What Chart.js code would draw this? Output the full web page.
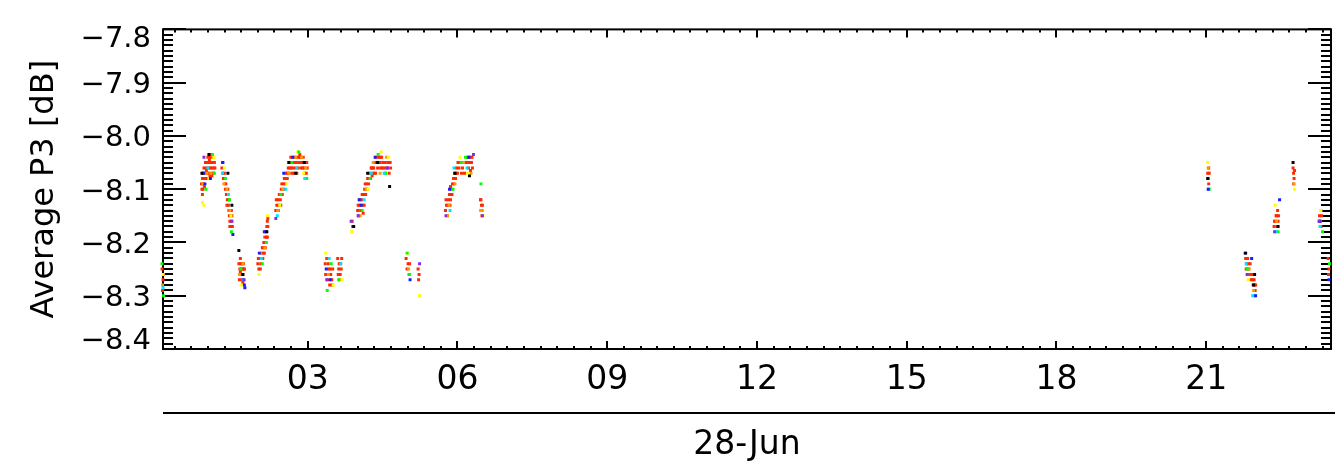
<!DOCTYPE html>
<html><head><meta charset="utf-8">
<script src="https://cdn.jsdelivr.net/npm/chart.js@4.4.1/dist/chart.umd.min.js"></script>
<style>html,body{margin:0;padding:0;background:#fff;overflow:hidden}canvas{display:block}</style>
</head><body>
<canvas id="c" width="1335" height="462"></canvas>
<script>
// ---- axis ticks / ranges ----
const xTicks = [3, 6, 9, 12, 15, 18, 21];
const yTicks = [-8.4, -8.3, -8.2, -8.1, -8.0, -7.9, -7.8];
const xRange = [0.1, 23.5];
const yRange = [-8.4, -7.8];
const dateLabel = '28-Jun';
const yTitle = 'Average P3 [dB]';

// ---- series: [hour of 28-Jun, Average P3 dB] ----
const red = [
 [0.08,-8.25],[0.10,-8.27],[0.09,-8.29],[0.11,-8.26],
 [0.88,-8.10],[0.89,-8.08],[0.90,-8.07],[0.91,-8.09],[0.92,-8.06],[0.93,-8.08],[0.94,-8.07],[0.95,-8.05],[0.96,-8.06],[0.97,-8.08],[0.98,-8.05],[0.99,-8.07],[1.00,-8.04],[1.01,-8.06],[1.02,-8.05],[1.03,-8.07],[1.04,-8.04],[1.05,-8.06],[1.06,-8.05],[1.07,-8.04],[1.08,-8.06],[1.09,-8.05],[1.10,-8.07],[1.11,-8.05],[1.12,-8.06],[1.13,-8.05],[0.89,-8.11],[0.93,-8.095],[0.97,-8.065],[1.04,-8.075],
 [0.87,-8.09],[0.90,-8.10],[0.92,-8.08],[0.95,-8.08],[0.99,-8.05],[1.01,-8.08],[1.03,-8.045],[1.06,-8.035],[1.08,-8.075],[1.11,-8.07],[1.14,-8.06],
 [1.28,-8.06],[1.30,-8.07],[1.31,-8.08],[1.33,-8.07],[1.34,-8.09],[1.35,-8.10],[1.37,-8.11],[1.39,-8.12],[1.40,-8.10],[1.41,-8.13],[1.42,-8.14],[1.43,-8.15],[1.44,-8.16],[1.45,-8.14],[1.46,-8.17],[1.47,-8.16],[1.48,-8.15],[1.49,-8.17],
 [1.29,-8.05],[1.32,-8.08],[1.36,-8.09],[1.38,-8.13],[1.42,-8.12],[1.44,-8.17],[1.47,-8.14],
 [1.62,-8.24],[1.64,-8.25],[1.65,-8.23],[1.66,-8.26],[1.67,-8.24],[1.68,-8.27],[1.69,-8.25],[1.70,-8.26],[1.71,-8.24],[1.72,-8.27],[1.73,-8.25],[1.68,-8.25],
 [1.63,-8.27],[1.66,-8.24],[1.70,-8.275],[1.72,-8.25],[1.65,-8.255],
 [2.00,-8.24],[2.02,-8.25],[2.04,-8.23],[2.06,-8.24],[2.08,-8.22],[2.10,-8.23],[2.11,-8.21],[2.12,-8.20],[2.13,-8.22],[2.14,-8.19],[2.15,-8.20],[2.16,-8.18],[2.17,-8.19],[2.18,-8.17],[2.19,-8.16],[2.20,-8.17],[2.15,-8.21],[2.19,-8.19],
 [2.01,-8.23],[2.05,-8.25],[2.09,-8.21],[2.12,-8.22],[2.16,-8.20],[2.18,-8.19],[2.20,-8.155],
 [2.36,-8.14],[2.38,-8.13],[2.40,-8.12],[2.41,-8.14],[2.43,-8.11],[2.45,-8.12],[2.47,-8.10],[2.49,-8.11],[2.51,-8.09],[2.53,-8.08],[2.55,-8.09],[2.57,-8.07],[2.59,-8.08],[2.61,-8.06],[2.63,-8.07],[2.65,-8.05],[2.67,-8.06],[2.69,-8.07],[2.71,-8.05],[2.73,-8.04],[2.75,-8.06],[2.77,-8.05],[2.79,-8.04],[2.81,-8.06],[2.83,-8.04],[2.85,-8.05],[2.87,-8.06],[2.89,-8.05],[2.91,-8.04],[2.93,-8.06],[2.95,-8.05],[2.97,-8.07],[2.99,-8.06],[2.72,-8.07],[2.84,-8.035],
 [2.37,-8.12],[2.42,-8.13],[2.46,-8.13],[2.48,-8.09],[2.52,-8.10],[2.56,-8.08],[2.60,-8.07],[2.64,-8.06],[2.66,-8.04],[2.70,-8.06],[2.74,-8.05],[2.78,-8.07],[2.82,-8.05],[2.86,-8.04],[2.90,-8.06],[2.94,-8.07],[2.98,-8.05],
 [3.35,-8.24],[3.37,-8.26],[3.38,-8.23],[3.40,-8.27],[3.42,-8.25],[3.44,-8.28],[3.46,-8.26],[3.48,-8.27],[3.50,-8.25],
 [3.36,-8.26],[3.41,-8.24],[3.45,-8.25],[3.49,-8.28],
 [3.60,-8.23],[3.62,-8.25],[3.63,-8.24],[3.65,-8.26],[3.67,-8.25],[3.68,-8.23],[3.61,-8.26],[3.66,-8.24],
 [3.89,-8.16],[3.90,-8.17],
 [4.00,-8.14],[4.02,-8.15],[4.04,-8.13],[4.06,-8.14],[4.08,-8.12],[4.10,-8.13],[4.12,-8.11],[4.14,-8.10],[4.16,-8.11],[4.18,-8.09],[4.20,-8.08],[4.22,-8.09],[4.24,-8.07],[4.26,-8.08],[4.28,-8.06],[4.30,-8.07],[4.32,-8.06],[4.34,-8.05],[4.36,-8.07],[4.38,-8.05],[4.40,-8.06],[4.42,-8.04],[4.44,-8.05],[4.46,-8.06],[4.48,-8.04],[4.50,-8.05],[4.52,-8.06],[4.54,-8.05],[4.57,-8.06],[4.60,-8.05],[4.63,-8.07],[4.66,-8.06],[4.11,-8.145],[4.29,-8.075],
 [4.01,-8.13],[4.05,-8.12],[4.09,-8.11],[4.13,-8.13],[4.15,-8.09],[4.19,-8.10],[4.23,-8.08],[4.27,-8.06],[4.31,-8.06],[4.33,-8.07],[4.37,-8.04],[4.41,-8.05],[4.45,-8.04],[4.49,-8.06],[4.55,-8.07],[4.59,-8.06],[4.65,-8.05],
 [4.97,-8.23],[4.99,-8.25],[5.01,-8.24],[5.03,-8.26],[5.04,-8.24],
 [5.21,-8.25],[5.22,-8.27],[5.23,-8.26],
 [5.76,-8.14],[5.78,-8.13],[5.80,-8.15],[5.82,-8.12],[5.84,-8.11],[5.86,-8.12],[5.88,-8.10],[5.90,-8.09],[5.92,-8.08],[5.94,-8.07],[5.96,-8.08],[5.98,-8.06],[6.00,-8.07],[6.03,-8.06],[6.06,-8.05],[6.10,-8.06],[6.14,-8.07],[6.18,-8.05],[6.22,-8.06],[6.25,-8.04],[6.28,-8.05],[6.30,-8.06],[5.86,-8.095],[6.26,-8.065],
 [5.77,-8.12],[5.81,-8.13],[5.85,-8.13],[5.89,-8.11],[5.93,-8.09],[5.97,-8.07],[6.01,-8.05],[6.08,-8.07],[6.16,-8.05],[6.20,-8.04],[6.24,-8.05],[6.29,-8.04],
 [6.46,-8.12],[6.47,-8.14],[6.48,-8.13],[6.49,-8.15],[6.50,-8.13],[6.47,-8.12],[6.49,-8.14],
 [21.03,-8.07],[21.04,-8.08],[21.05,-8.09],[21.06,-8.07],[21.05,-8.06],
 [21.79,-8.23],[21.81,-8.24],[21.83,-8.23],[21.85,-8.25],[21.87,-8.26],[21.88,-8.24],[21.90,-8.27],[21.92,-8.26],[21.94,-8.28],[21.96,-8.27],[21.98,-8.29],[21.99,-8.28],
 [21.80,-8.25],[21.84,-8.24],[21.89,-8.26],[21.93,-8.27],[21.97,-8.28],
 [22.36,-8.17],[22.38,-8.16],[22.40,-8.15],[22.42,-8.17],[22.43,-8.14],[22.45,-8.15],[22.37,-8.16],[22.41,-8.15],[22.44,-8.16],
 [22.74,-8.06],[22.75,-8.07],[22.76,-8.08],[22.77,-8.065],[22.75,-8.09],
 [23.27,-8.15],[23.29,-8.16],[23.31,-8.15],[23.28,-8.16],[23.30,-8.17],
 [23.44,-8.23],[23.46,-8.25],[23.45,-8.26]
];
const orange = [
 [0.09,-8.28],[0.90,-8.09],[0.98,-8.07],[1.06,-8.07],[1.10,-8.04],[1.32,-8.09],[1.38,-8.10],[1.44,-8.14],[1.63,-8.26],[1.70,-8.24],[2.05,-8.22],[2.14,-8.21],[2.40,-8.14],[2.50,-8.10],[2.62,-8.07],[2.76,-8.04],[2.88,-8.04],[2.96,-8.06],[3.41,-8.26],[3.64,-8.27],[4.05,-8.15],[4.17,-8.10],[4.31,-8.05],[4.45,-8.07],[4.58,-8.04],[5.02,-8.25],[5.83,-8.13],[5.95,-8.09],[6.12,-8.05],[6.27,-8.07],[6.48,-8.14],[21.04,-8.06],[21.86,-8.25],[21.95,-8.29],[22.41,-8.16],[22.76,-8.09],[23.30,-8.14]
];
const yellow = [
 [0.10,-8.26],[0.89,-8.125],[0.92,-8.13],[1.02,-8.08],[1.12,-8.04],[1.33,-8.06],[1.46,-8.15],[1.67,-8.28],[2.02,-8.26],[2.19,-8.15],[2.44,-8.13],[2.58,-8.09],[2.80,-8.03],[2.92,-8.07],[3.36,-8.22],[3.51,-8.28],[3.69,-8.27],[3.88,-8.18],[4.21,-8.10],[4.47,-8.03],[4.62,-8.04],[5.00,-8.22],[5.24,-8.30],[5.79,-8.15],[6.05,-8.04],[6.20,-8.07],[6.51,-8.15],[21.03,-8.05],[21.84,-8.27],[22.38,-8.13],[22.77,-8.10],[23.29,-8.14]
];
const green = [
 [0.08,-8.24],[0.11,-8.30],[0.96,-8.10],[1.09,-8.035],[1.13,-8.07],[1.35,-8.08],[1.43,-8.12],[1.47,-8.18],[1.66,-8.25],[2.09,-8.24],[2.17,-8.20],[2.46,-8.11],[2.68,-8.05],[2.82,-8.03],[2.98,-8.08],[3.39,-8.29],[3.47,-8.24],[3.62,-8.27],[4.09,-8.14],[4.25,-8.08],[4.41,-8.035],[4.56,-8.07],[4.99,-8.22],[5.04,-8.26],[5.91,-8.10],[6.07,-8.05],[6.16,-8.04],[6.47,-8.09],[21.06,-8.10],[21.82,-8.25],[21.97,-8.30],[22.44,-8.18],[23.33,-8.18],[23.47,-8.24]
];
const cyan = [
 [0.10,-8.285],[1.00,-8.06],[1.29,-8.07],[1.41,-8.11],[1.71,-8.27],[2.07,-8.23],[2.39,-8.15],[2.56,-8.10],[2.78,-8.06],[2.94,-8.08],[3.43,-8.23],[3.66,-8.24],[4.13,-8.12],[4.27,-8.07],[4.53,-8.07],[5.85,-8.14],[5.93,-8.06],[6.19,-8.06],[21.05,-8.10],[21.80,-8.24],[21.93,-8.30],[22.39,-8.18],[23.28,-8.17]
];
const blue = [
 [0.91,-8.07],[0.94,-8.09],[1.05,-8.08],[1.30,-8.05],[1.50,-8.185],[1.73,-8.28],[1.74,-8.285],[2.03,-8.22],[2.13,-8.18],[2.52,-8.07],[2.70,-8.04],[3.37,-8.25],[3.45,-8.27],[4.03,-8.12],[4.07,-8.13],[4.35,-8.04],[5.05,-8.27],[5.84,-8.10],[6.23,-8.04],[21.04,-8.10],[21.78,-8.22],[21.91,-8.23],[21.99,-8.30],[22.47,-8.12],[23.27,-8.16],[23.46,-8.27]
];
const purple = [
 [0.92,-8.04],[1.48,-8.16],[1.72,-8.27],[2.36,-8.155],[3.38,-8.27],[3.87,-8.16],[4.01,-8.15],[4.60,-8.06],[5.24,-8.24],[5.77,-8.15],[6.32,-8.035],[6.50,-8.15],[21.82,-8.26],[22.37,-8.18],[23.26,-8.16]
];
const black = [
 [0.88,-8.07],[1.02,-8.035],[1.40,-8.07],[1.48,-8.13],[1.62,-8.215],[1.70,-8.26],[2.18,-8.18],[2.62,-8.05],[2.76,-8.07],[2.93,-8.05],[3.92,-8.17],[4.20,-8.07],[4.64,-8.095],[4.40,-8.05],[6.24,-8.075],[5.95,-8.07],[21.03,-8.08],[21.79,-8.22],[21.95,-8.28],[21.97,-8.26],[22.44,-8.17],[22.74,-8.05]
];

const seriesList = [
  ['black', black, '#000000'],
  ['purple', purple, '#8a2be2'],
  ['blue', blue, '#1a1aff'],
  ['cyan', cyan, '#00e5ff'],
  ['green', green, '#00ff00'],
  ['yellow', yellow, '#ffff00'],
  ['orange', orange, '#ff9900'],
  ['red', red, '#ff2a00']
];

const FONT = "'DejaVu Sans', sans-serif";
const fmtY = v => v.toFixed(1).replace('-', '\u2212');
const fmtX = v => String(v).padStart(2, '0');

const frame = {
  id: 'idlFrame',
  beforeDraw(chart) {
    // IDL-style: edge labels pulled inside, others sit a little below their tick
    const items = chart.scales.y.getLabelItems(chart.chartArea);
    if (items._shifted) return;
    items._shifted = true;
    const n = items.length;
    items.forEach((it, i) => {
      const d = i === 0 ? -8 : (i === n - 1 ? 10 : 3);
      it.options.translation = [it.options.translation[0], it.options.translation[1] + d];
    });
  },
  beforeDatasetsDraw(chart) {
    const {ctx, chartArea: {left, right, top, bottom}, scales: {x, y}} = chart;
    ctx.save();
    ctx.strokeStyle = '#000';
    ctx.lineWidth = 2;
    const line = (a, b, c, d) => { ctx.beginPath(); ctx.moveTo(a, b); ctx.lineTo(c, d); ctx.stroke(); };
    ctx.strokeRect(left, top, right - left, bottom - top);
    for (let i = 0; i <= 60; i++) {
      const p = Math.round(y.getPixelForValue(yRange[0] + i * 0.01));
      const L = (i % 10 === 0) ? 23 : 10;
      line(left, p, left + L, p);
      line(right, p, right - L, p);
    }
    for (let i = 0; i <= 72; i++) {
      const v = i / 3;
      if (v < xRange[0] || v > xRange[1]) continue;
      const p = Math.round(x.getPixelForValue(v));
      const L = (i % 9 === 0) ? 8 : 3;
      line(p, bottom, p, bottom - L);
      line(p, top, p, top + L);
    }
    line(left, bottom + 64, chart.width, bottom + 64);
    ctx.restore();
  }
};

new Chart(document.getElementById('c'), {
  type: 'scatter',
  data: {
    datasets: seriesList.map(([name, pts, col]) => ({
      label: name,
      data: pts.map(([h, v]) => ({x: h, y: v})),
      backgroundColor: col,
      borderWidth: 0,
      pointStyle: 'rect',
      pointRadius: 2.1,
      clip: 4
    }))
  },
  options: {
    responsive: false,
    devicePixelRatio: 1,
    animation: false,
    layout: {padding: {top: 23, right: 1, left: 0, bottom: 0}},
    plugins: {legend: {display: false}, tooltip: {enabled: false}},
    scales: {
      x: {
        type: 'linear', position: 'bottom',
        min: xRange[0], max: xRange[1],
        afterBuildTicks: s => { s.ticks = xTicks.map(v => ({value: v})); },
        afterFit: s => { s.height = 113; },
        grid: {display: false, drawTicks: false},
        border: {display: false},
        ticks: {color: '#000', font: {family: FONT, size: 33}, padding: 12, maxRotation: 0, autoSkip: false, callback: v => fmtX(v)},
        title: {display: true, text: dateLabel, color: '#000', font: {family: FONT, size: 33, lineHeight: 1.0}, padding: {top: 0, bottom: 0}}
      },
      y: {
        type: 'linear', position: 'left',
        min: yRange[0], max: yRange[1],
        afterBuildTicks: s => { s.ticks = yTicks.map(v => ({value: v})); },
        afterFit: s => { s.width = 163; },
        grid: {display: false, drawTicks: false},
        border: {display: false},
        ticks: {color: '#000', font: {family: FONT, size: 29}, padding: 12, autoSkip: false, callback: v => fmtY(v)},
        title: {display: true, text: yTitle, color: '#000', font: {family: FONT, size: 32}, padding: {top: 25, bottom: 0}}
      }
    }
  },
  plugins: [frame]
});
</script>
</body></html>
